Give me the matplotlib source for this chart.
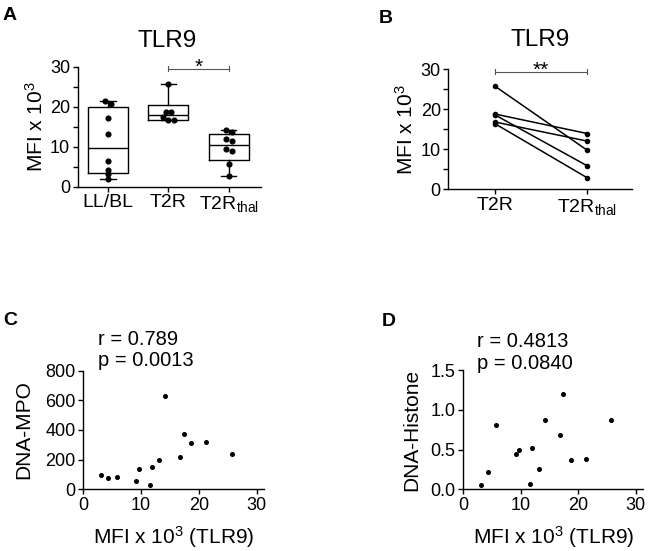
import numpy as np
import matplotlib
matplotlib.use("Agg")
import matplotlib.pyplot as plt
from matplotlib.ticker import MultipleLocator, FormatStrFormatter

plt.rcParams['font.family'] = ['Liberation Sans', 'DejaVu Sans']
plt.rcParams['mathtext.fontset'] = 'custom'
plt.rcParams['mathtext.rm'] = 'Liberation Sans'
plt.rcParams['mathtext.it'] = 'Liberation Sans:italic'
plt.rcParams['mathtext.bf'] = 'Liberation Sans:bold'

# A: TLR9 MFI (x10^3) per group
groups_a = ['LL/BL', 'T2R', r'T2R$_{\mathrm{thal}}$']
llbl = [21.4, 20.75, 17.1, 13.1, 6.4, 4.2, 3.1, 1.9]
t2r = [25.7, 18.7, 18.7, 17.4, 16.6, 16.6]
t2r_thal = [14.1, 13.6, 11.9, 11.5, 9.5, 9.0, 5.75, 2.75]

# B: paired samples, before / after thalidomide
groups_b = ['T2R', r'T2R$_{\mathrm{thal}}$']
paired_t2r = [25.8, 18.8, 18.6, 16.8, 16.4]
paired_thal = [9.7, 13.9, 5.8, 12.0, 2.8]

# C / D: correlations against TLR9 MFI
tlr9_mfi = [3.1, 4.3, 5.75, 9.15, 9.65, 11.6, 11.95, 13.15, 14.15, 16.75, 17.4, 18.65, 21.3, 25.7]
dna_mpo = [97, 74, 83, 58, 135, 29, 151, 198, 629, 218, 371, 315, 319, 238]
dna_histone = [0.055, 0.22, 0.81, 0.44, 0.50, 0.067, 0.52, 0.25, 0.87, 0.69, 1.20, 0.366, 0.38, 0.874]
stats_c = ['r = 0.789', 'p = 0.0013']
stats_d = ['r = 0.4813', 'p = 0.0840']

TICK_FS = 13
LABEL_FS = 14.5
W, H = 650, 551


def px_axes(fig, left, right, top, bottom):
    return fig.add_axes([left / W, 1 - bottom / H, (right - left) / W, (bottom - top) / H])


def style(ax):
    for s in ['top', 'right']:
        ax.spines[s].set_visible(False)
    for s in ['left', 'bottom']:
        ax.spines[s].set_linewidth(1.0)
    ax.tick_params(which='both', direction='out', length=3.5, width=1.0,
                   labelsize=TICK_FS, pad=2)


def spread(vals, tol=0.9, step=0.09):
    # simple prism-like spreading of close values
    vals = np.asarray(vals, dtype=float)
    order = np.argsort(-vals)
    offs = np.zeros(len(vals))
    groups = []
    for i in order:
        if groups and vals[groups[-1][0]] - vals[i] < tol:
            groups[-1].append(i)
        else:
            groups.append([i])
    for g in groups:
        k = len(g)
        for j, i in enumerate(g):
            offs[i] = (j - (k - 1) / 2) * step
    return offs


def sig_bar(ax, x1, x2, y, label):
    c = '#555555'
    ax.plot([x1, x2], [y, y], color=c, lw=0.8, clip_on=False)
    for x in (x1, x2):
        ax.plot([x, x], [y - 0.6, y + 0.6], color=c, lw=0.8, clip_on=False)
    ax.text((x1 + x2) / 2, y - 1.0, label, ha='center', va='baseline',
            fontsize=15, clip_on=False)


fig = plt.figure(figsize=(6.5, 5.51), dpi=100)

# ---- A
ax = px_axes(fig, 77.7, 261, 66.7, 186.7)
style(ax)
data_a = [llbl, t2r, t2r_thal]
bstats = []
for vals in data_a:
    q1, med, q3 = np.percentile(vals, [25, 50, 75], method='weibull')
    bstats.append(dict(med=med, q1=q1, q3=q3, whislo=min(vals), whishi=max(vals)))
lp = dict(color='black', linewidth=1.0)
ax.bxp(bstats, positions=[1, 2, 3], widths=0.66, capwidths=0.25, showfliers=False,
       boxprops=lp, whiskerprops=lp, capprops=lp, medianprops=lp)
for i, vals in enumerate(data_a):
    ax.plot(i + 1 + spread(vals), vals, 'o', color='black', ms=3.4, zorder=5)
ax.set_xlim(0.5, 3.53)
ax.set_ylim(0, 30)
ax.set_xticks([1, 2, 3])
ax.set_xticklabels(groups_a, fontsize=LABEL_FS - 0.5)
ax.yaxis.set_major_locator(MultipleLocator(10))
ax.yaxis.set_minor_locator(MultipleLocator(5))
ax.set_ylabel(r'MFI x 10$^3$', fontsize=LABEL_FS + 0.5, labelpad=2)
sig_bar(ax, 2, 3, 29.5, '*')

# ---- B
ax = px_axes(fig, 448.5, 631.7, 69.3, 189)
style(ax)
for a, b in zip(paired_t2r, paired_thal):
    ax.plot([1, 2], [a, b], '-o', color='black', lw=1.1, ms=3.0)
ax.set_xlim(0.5, 2.48)
ax.set_ylim(0, 30)
ax.set_xticks([1, 2])
ax.set_xticklabels(groups_b, fontsize=LABEL_FS - 0.5)
ax.yaxis.set_major_locator(MultipleLocator(10))
ax.yaxis.set_minor_locator(MultipleLocator(5))
ax.set_ylabel(r'MFI x 10$^3$', fontsize=LABEL_FS + 0.5, labelpad=3)
sig_bar(ax, 1, 2, 29.4, '**')

# ---- C
ax = px_axes(fig, 83.3, 264.3, 370.7, 489.3)
style(ax)
ax.plot(tlr9_mfi, dna_mpo, 'o', color='black', ms=2.6)
ax.set_xlim(0, 31.3)
ax.set_ylim(0, 800)
ax.set_xticks([0, 10, 20, 30])
ax.set_yticks([0, 200, 400, 600, 800])
ax.set_ylabel('DNA-MPO', fontsize=LABEL_FS + 0.5, labelpad=9)
ax.set_xlabel(r'MFI x 10$^3$ (TLR9)', fontsize=LABEL_FS + 0.5, labelpad=7)

# ---- D
ax = px_axes(fig, 463.3, 643.3, 370.3, 489.3)
style(ax)
ax.plot(tlr9_mfi, dna_histone, 'o', color='black', ms=2.6)
ax.set_xlim(0, 31.3)
ax.set_ylim(0, 1.5)
ax.set_xticks([0, 10, 20, 30])
ax.set_yticks([0, 0.5, 1.0, 1.5])
ax.yaxis.set_major_formatter(FormatStrFormatter('%.1f'))
ax.set_ylabel('DNA-Histone', fontsize=LABEL_FS + 0.5, labelpad=7)
ax.set_xlabel(r'MFI x 10$^3$ (TLR9)', fontsize=LABEL_FS + 0.5, labelpad=7)

# titles, panel letters, stats text
fig.text(167.5 / W, 1 - 46.7 / H, 'TLR9', ha='center', va='baseline', fontsize=17.5)
fig.text(540 / W, 1 - 46 / H, 'TLR9', ha='center', va='baseline', fontsize=17.5)
for lab, x, y in [('A', 3, 20), ('B', 379, 22.7), ('C', 3, 325), ('D', 381.5, 325.5)]:
    fig.text(x / W, 1 - y / H, lab, ha='left', va='baseline', fontsize=14, fontweight='bold')
for lines, x, ys in [(stats_c, 97.7, (345, 366.5)), (stats_d, 476.7, (346.7, 369))]:
    for t, y in zip(lines, ys):
        fig.text(x / W, 1 - y / H, t, ha='left', va='baseline', fontsize=14.5)

fig.savefig('out.png', dpi=100)
